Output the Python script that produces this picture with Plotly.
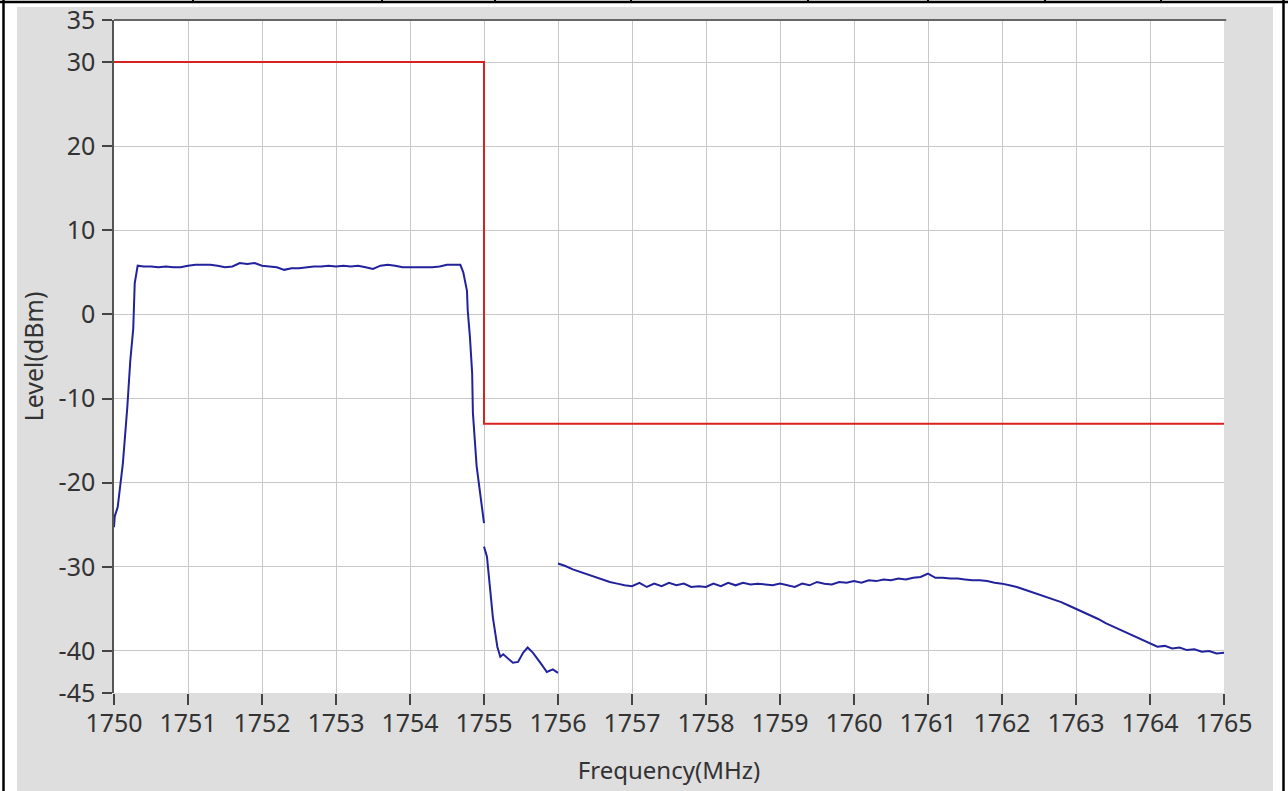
import plotly.graph_objects as go

# limit mask (red)
limit_freq = [1750, 1755, 1755, 1765]
limit_level = [30, 30, -13, -13]

# measured trace, in-band part incl. edges
inband_freq = [1750.0, 1750.01, 1750.05, 1750.12, 1750.18, 1750.22, 1750.26, 1750.28, 1750.32,
               1750.4, 1750.5, 1750.6, 1750.7, 1750.8, 1750.9, 1751.0, 1751.1, 1751.2, 1751.3,
               1751.4, 1751.5, 1751.6, 1751.7, 1751.8, 1751.9, 1752.0, 1752.1, 1752.2, 1752.3,
               1752.4, 1752.5, 1752.6, 1752.7, 1752.8, 1752.9, 1753.0, 1753.1, 1753.2, 1753.3,
               1753.4, 1753.5, 1753.6, 1753.7, 1753.8, 1753.9, 1754.0, 1754.1, 1754.2, 1754.3,
               1754.4, 1754.5, 1754.6, 1754.68, 1754.72, 1754.77, 1754.78, 1754.81, 1754.84,
               1754.85, 1754.9, 1754.95, 1755.0]
inband_level = [-25.3, -24.0, -22.9, -17.7, -11.0, -5.5, -1.7, 3.7, 5.8,
                5.7, 5.7, 5.6, 5.7, 5.6, 5.6, 5.8, 5.9, 5.9, 5.9,
                5.8, 5.6, 5.7, 6.1, 6.0, 6.1, 5.8, 5.7, 5.6, 5.3,
                5.5, 5.5, 5.6, 5.7, 5.7, 5.8, 5.7, 5.8, 5.7, 5.8,
                5.6, 5.4, 5.8, 5.9, 5.8, 5.6, 5.6, 5.6, 5.6, 5.6,
                5.7, 5.9, 5.9, 5.9, 5.0, 2.8, 0.5, -2.7, -7.0,
                -11.7, -18.0, -21.5, -24.8]

# just above 1755 MHz
near_freq = [1755.0, 1755.04, 1755.08, 1755.12, 1755.18, 1755.22, 1755.26, 1755.31, 1755.39,
             1755.46, 1755.53, 1755.59, 1755.66, 1755.76, 1755.85, 1755.93, 1756.0]
near_level = [-27.6, -28.8, -32.4, -36.0, -39.5, -40.7, -40.4, -40.8, -41.4,
              -41.3, -40.2, -39.6, -40.2, -41.4, -42.5, -42.2, -42.6]

# spurious region 1756-1765 MHz
spur_freq = [1756.0, 1756.1, 1756.2, 1756.3, 1756.4, 1756.5, 1756.6, 1756.7, 1756.8, 1756.9,
             1757.0, 1757.1, 1757.2, 1757.3, 1757.4, 1757.5, 1757.6, 1757.7, 1757.8, 1757.9,
             1758.0, 1758.1, 1758.2, 1758.3, 1758.4, 1758.5, 1758.6, 1758.7, 1758.8, 1758.9,
             1759.0, 1759.1, 1759.2, 1759.3, 1759.4, 1759.5, 1759.6, 1759.7, 1759.8, 1759.9,
             1760.0, 1760.1, 1760.2, 1760.3, 1760.4, 1760.5, 1760.6, 1760.7, 1760.8, 1760.9,
             1761.0, 1761.1, 1761.2, 1761.3, 1761.4, 1761.5, 1761.6, 1761.7, 1761.8, 1761.9,
             1762.0, 1762.1, 1762.2, 1762.3, 1762.4, 1762.5, 1762.6, 1762.7, 1762.8, 1762.9,
             1763.0, 1763.1, 1763.2, 1763.3, 1763.4, 1763.5, 1763.6, 1763.7, 1763.8, 1763.9,
             1764.0, 1764.1, 1764.2, 1764.3, 1764.4, 1764.5, 1764.6, 1764.7, 1764.8, 1764.9,
             1765.0]
spur_level = [-29.6, -29.9, -30.3, -30.6, -30.9, -31.2, -31.5, -31.8, -32.0, -32.2,
              -32.3, -31.9, -32.4, -32.0, -32.3, -31.9, -32.2, -32.0, -32.4, -32.3,
              -32.4, -32.0, -32.3, -31.9, -32.2, -31.9, -32.1, -32.0, -32.1, -32.2,
              -32.0, -32.2, -32.4, -32.0, -32.2, -31.8, -32.0, -32.1, -31.8, -31.9,
              -31.7, -31.9, -31.6, -31.7, -31.5, -31.6, -31.4, -31.5, -31.3, -31.2,
              -30.8, -31.3, -31.3, -31.4, -31.4, -31.5, -31.6, -31.6, -31.7, -31.9,
              -32.0, -32.2, -32.4, -32.7, -33.0, -33.3, -33.6, -33.9, -34.2, -34.6,
              -35.0, -35.4, -35.8, -36.2, -36.7, -37.1, -37.5, -37.9, -38.3, -38.7,
              -39.1, -39.5, -39.4, -39.7, -39.6, -39.9, -39.8, -40.1, -40.0, -40.3,
              -40.2]

y_ticks = [35, 30, 20, 10, 0, -10, -20, -30, -40, -45]
y_labels = ["35", "30", "20", "10", "0", "-10", "-20", "-30", "-40", "-45"]
x_ticks = list(range(1750, 1766))

W, H = 1288, 791
L, R, T, B = 114, 64, 20, 98
PW, PH = W - L - R, H - T - B


def px(x):
    return (x - L) / PW


def py(y):
    return (H - B - y) / PH


FONT = "Noto Sans"
BLUE = "#22229c"
RED = "#d82222"

fig = go.Figure()
fig.add_trace(go.Scatter(x=limit_freq, y=limit_level, mode="lines",
                         line=dict(color=RED, width=2), hoverinfo="skip"))
for fx, ly in [(inband_freq, inband_level), (near_freq, near_level), (spur_freq, spur_level)]:
    fig.add_trace(go.Scatter(x=fx, y=ly, mode="lines",
                             line=dict(color=BLUE, width=2), hoverinfo="skip"))

shapes = []
# plot frame top edge
shapes.append(dict(type="line", xref="paper", yref="paper", x0=0, x1=1.002, y0=1, y1=1,
                   line=dict(color="#666", width=2)))
# white margin around the gray panel
for x0, x1, y0, y1 in [(0, 17, 0, H), (1273, W, 0, H), (0, W, 0, 7)]:
    shapes.append(dict(type="rect", xref="paper", yref="paper", layer="above",
                       x0=px(x0), x1=px(x1), y0=py(y1), y1=py(y0),
                       fillcolor="white", line=dict(width=0)))
# black table lines
for x in [3.5, 1283.5]:
    shapes.append(dict(type="line", xref="paper", yref="paper", x0=px(x), x1=px(x),
                       y0=py(0), y1=py(H), line=dict(color="black", width=2.5)))
shapes.append(dict(type="line", xref="paper", yref="paper", x0=px(0), x1=px(W),
                   y0=py(2), y1=py(2), line=dict(color="black", width=2.5)))
for x in [193, 382, 495, 631, 808, 928, 1045, 1161]:
    shapes.append(dict(type="line", xref="paper", yref="paper", x0=px(x), x1=px(x),
                       y0=py(0), y1=py(3), line=dict(color="black", width=2)))

fig.update_layout(
    width=W, height=H, margin=dict(l=L, r=R, t=T, b=B),
    paper_bgcolor="#dedede", plot_bgcolor="white", showlegend=False,
    font=dict(family=FONT, color="#333"),
    shapes=shapes,
    xaxis=dict(range=[1750, 1765], tickvals=x_ticks, ticks="outside", ticklen=11,
               tickcolor="#444", tickwidth=1.5, showgrid=True, gridcolor="#c8c8c8",
               gridwidth=1, zeroline=False, showline=False, automargin=False,
               tickfont=dict(size=25, color="#333"), ticklabelstandoff=-3,
               title=dict(text="Frequency(MHz)", font=dict(size=24, color="#333"), standoff=24)),
    yaxis=dict(range=[-45, 35], tickvals=y_ticks, ticktext=y_labels, ticks="outside",
               ticklen=10, tickcolor="#444", tickwidth=1.5, showgrid=True,
               gridcolor="#c8c8c8", gridwidth=1, zeroline=False, showline=True,
               linecolor="#555", linewidth=1.5, automargin=False,
               tickfont=dict(size=25, color="#333"), ticklabelstandoff=2,
               title=dict(text="Level(dBm)", font=dict(size=25, color="#333"), standoff=8)),
)

# the page body has a default 8px margin; drop it so the figure sits at 0,0
fig.write_html("out.html", config={"displayModeBar": False},
               post_script="document.body.style.margin='0';")
